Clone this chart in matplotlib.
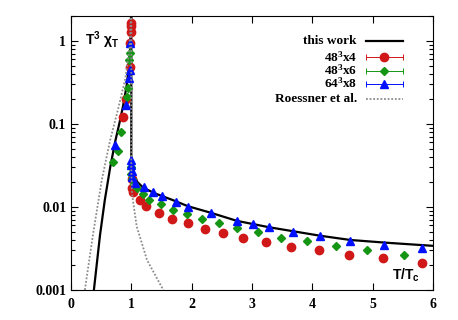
import matplotlib
matplotlib.use('Agg')
import matplotlib.pyplot as plt
from matplotlib.ticker import LogLocator, FixedLocator, NullFormatter

plt.rcParams['mathtext.default'] = 'regular'

# this work (solid black curve)
work_x = [0.38, 0.48, 0.56, 0.65, 0.73, 0.80, 0.86, 0.92, 0.95, 0.98, 1.0,
          1.0, 1.02, 1.05, 1.1, 1.2, 1.4, 1.7, 1.94, 2.32, 2.75, 3.28, 4.13, 4.63, 5.24, 6.0]
work_y = [0.001, 0.0045, 0.012, 0.03, 0.06, 0.1, 0.16, 0.28, 0.42, 0.8, 2.5,
          0.037, 0.03, 0.024, 0.02, 0.017, 0.0145, 0.012, 0.0102, 0.0085, 0.0068, 0.0057,
          0.0045, 0.0040, 0.0037, 0.0034]

# 48^3x4
n4_x = [0.87, 0.92, 0.98, 0.98, 0.99, 0.99, 0.99, 1.01, 1.01, 1.03, 1.14, 1.24, 1.46, 1.68,
        1.94, 2.22, 2.52, 2.85, 3.23, 3.65, 4.11, 4.61, 5.17, 5.82]
n4_y = [0.12, 0.20, 0.49, 0.94, 1.28, 1.5, 1.65, 0.022, 0.017, 0.015, 0.0121, 0.0102, 0.0085,
        0.0072, 0.0064, 0.0054, 0.0049, 0.0042, 0.0038, 0.0033, 0.0030, 0.0026, 0.0024, 0.0021]

# 48^3x6
n6_x = [0.70, 0.78, 0.83, 0.93, 0.95, 0.96, 0.98, 1.0, 1.0, 1.02, 1.04, 1.10, 1.19, 1.29, 1.49,
        1.69, 1.92, 2.17, 2.45, 2.75, 3.10, 3.48, 3.91, 4.39, 4.91, 5.52]
n6_y = [0.035, 0.047, 0.08, 0.21, 0.27, 0.59, 0.71, 0.03, 0.025, 0.022, 0.019, 0.017, 0.0144,
        0.012, 0.011, 0.0092, 0.0083, 0.0072, 0.0064, 0.0055, 0.0050, 0.0042, 0.0039, 0.0034,
        0.0030, 0.0026]

# 64^3x8
n8_x = [0.73, 0.91, 0.96, 0.98, 0.98, 1.0, 1.0, 1.01, 1.02, 1.06, 1.21, 1.36, 1.51, 1.74, 1.94,
        2.32, 2.75, 3.02, 3.28, 3.68, 4.13, 4.63, 5.19, 5.82]
n8_y = [0.056, 0.17, 0.36, 0.45, 0.94, 0.037, 0.032, 0.027, 0.023, 0.0195, 0.0174, 0.015, 0.0135,
        0.0115, 0.010, 0.0085, 0.0068, 0.0063, 0.0057, 0.0050, 0.0045, 0.0039, 0.0035, 0.0032]

# Roessner et al. (dotted grey)
ro_x = [0.23, 0.37, 0.51, 0.65, 0.78, 0.9, 0.97, 1.0, 1.0, 1.01, 1.09, 1.26, 1.53, 1.6]
ro_y = [0.001, 0.0049, 0.021, 0.064, 0.15, 0.35, 0.8, 2.5, 0.03, 0.0147, 0.0058, 0.0023, 0.001, 0.0008]

xticks = [0, 1, 2, 3, 4, 5, 6]
yticks = [0.001, 0.01, 0.1, 1]
ytick_labels = ['0.001', '0.01', '0.1', '1']

labels = ['this work', '48$^3$x4', '48$^3$x6', '64$^3$x8', 'Roessner et al.']

red = '#d01818'
green = '#149614'
blue = '#0010ff'
grey = '#8c8c8c'

fig = plt.figure(figsize=(4.58, 3.2), dpi=100)
ax = fig.add_axes([0.155, 0.094, 0.79, 0.856])

ax.plot(work_x, work_y, color='black', lw=1.6)
ax.plot(n4_x, n4_y, 'o', color=red, ms=6, mec=red)
ax.plot(n6_x, n6_y, 'D', color=green, ms=4.5, mec=green)
ax.plot(n8_x, n8_y, '^', color=blue, ms=6, mec=blue)
ax.plot(ro_x, ro_y, color=grey, lw=1.3, ls=(0, (1, 1)))

ax.set_yscale('log')
ax.set_xlim(0, 6)
ax.set_ylim(0.001, 2.0)
ax.xaxis.set_major_locator(FixedLocator(xticks))
ax.yaxis.set_major_locator(FixedLocator(yticks))
ax.yaxis.set_minor_locator(LogLocator(base=10, subs=range(2, 10)))
ax.yaxis.set_minor_formatter(NullFormatter())
ax.set_yticklabels(ytick_labels)
ax.tick_params(which='both', direction='in', top=True, right=True, width=0.8)
ax.tick_params(which='major', length=5)
ax.tick_params(which='minor', length=3)
for lab in ax.get_xticklabels() + ax.get_yticklabels():
    lab.set_fontfamily('Liberation Serif')
    lab.set_fontweight('bold')
    lab.set_fontsize(10)
ax.tick_params(axis='x', pad=6)

ax.text(0.04, 0.91, 'T$^3$ χ$_T$', transform=ax.transAxes, family='Liberation Sans',
        fontweight='bold', fontsize=10, va='center', ha='left')
ax.text(0.965, 0.055, 'T/T$_c$', transform=ax.transAxes, family='Liberation Sans',
        fontweight='bold', fontsize=10, va='center', ha='right')

# legend drawn by hand (gnuplot style: text right-aligned, sample on the right)
rows = [0.907, 0.849, 0.801, 0.753, 0.697]
tx, h0, h1 = 0.79, 0.815, 0.917
styles = [('black', None), (red, 'o'), (green, 'D'), (blue, '^'), (grey, None)]
for i, (lab, (c, m)) in enumerate(zip(labels, styles)):
    y = rows[i]
    ax.text(tx, y, lab, transform=ax.transAxes, family='Liberation Serif',
            fontweight='bold', fontsize=9.5, ha='right', va='center')
    if i == 0:
        ax.plot([h0, h1], [y, y], color='black', lw=1.6, transform=ax.transAxes, clip_on=False)
    elif i == 4:
        ax.plot([h0, h1], [y, y], color=grey, lw=1.3, ls=(0, (1, 1)),
                transform=ax.transAxes, clip_on=False)
    else:
        ax.plot([h0, h1], [y, y], color=c, lw=0.7, transform=ax.transAxes, clip_on=False)
        ax.plot([h0, h1], [y, y], ls='none', marker='|', color=c, ms=5, mew=0.7,
                transform=ax.transAxes, clip_on=False)
        ms = 4.5 if m == 'D' else 6
        ax.plot([(h0 + h1) / 2], [y], marker=m, color=c, ms=ms,
                transform=ax.transAxes, clip_on=False)

fig.savefig('out.png', dpi=100)
